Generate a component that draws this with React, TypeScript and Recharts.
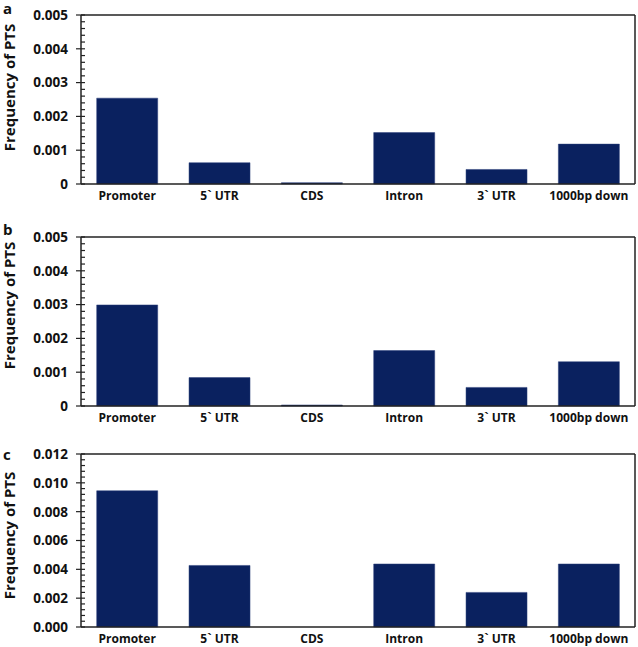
import { BarChart, Bar, XAxis, YAxis, CartesianGrid } from 'recharts';

const categories = ['Promoter', '5` UTR', 'CDS', 'Intron', '3` UTR', '1000bp down'];
const valuesA = [0.00254, 0.00063, 0.00004, 0.00152, 0.00043, 0.00118];
const valuesB = [0.00299, 0.00084, 0.00003, 0.00164, 0.00055, 0.00131];
const valuesC = [0.00945, 0.00427, 0, 0.00437, 0.0024, 0.00437];
const ticksAB = [0, 0.001, 0.002, 0.003, 0.004, 0.005];
const ticksC = [0, 0.002, 0.004, 0.006, 0.008, 0.01, 0.012];

const FONT = '"Open Sans", "DejaVu Sans", sans-serif';
const BAR = '#0a215f';
const AXIS = '#222';

// major + minor tick positions (5 minor steps per major step)
const allTicks = (major: number[]) => {
  const out: number[] = [];
  for (let i = 0; i < major.length - 1; i++) {
    const step = (major[i + 1] - major[i]) / 5;
    for (let k = 0; k < 5; k++) out.push(Number((major[i] + k * step).toFixed(6)));
  }
  out.push(major[major.length - 1]);
  return out;
};

interface PanelProps {
  letter: string;
  values: number[];
  ticks: number[];
  fmt: (v: number) => string;
  top: number;
  height: number;
  xAxisHeight: number;
  labelShift: number;
  letterTop: number;
}

const ChartPanel = (p: PanelProps) => {
  const data = categories.map((name, i) => ({ name, value: p.values[i] }));
  const max = p.ticks[p.ticks.length - 1];

  const isMajor = (v: number) => p.ticks.some((t) => Math.abs(t - v) < 1e-9);

  const YTick = (ctx: any) => {
    const { x, y, payload } = ctx;
    const major = isMajor(payload.value);
    return (
      <g>
        <line x1={major ? x - 5 : x} x2={x + 4} y1={y} y2={y} stroke={AXIS} strokeWidth={1.2} />
        {major && (
          <text
            x={x - 13}
            y={y}
            dy="0.36em"
            textAnchor="end"
            fontFamily={FONT}
            fontWeight="bold"
            fontSize={13.5}
            fill="#111"
          >
            {p.fmt(payload.value)}
          </text>
        )}
      </g>
    );
  };

  const YLabel = (ctx: any) => {
    const vb = ctx.viewBox;
    const cy = vb.y + vb.height / 2 + p.labelShift;
    return (
      <text
        x={9}
        y={cy}
        transform={`rotate(-90, 9, ${cy})`}
        textAnchor="middle"
        dominantBaseline="central"
        fontFamily={FONT}
        fontWeight="bold"
        fontSize={15}
        fill="#111"
      >
        Frequency of PTS
      </text>
    );
  };

  return (
    <div style={{ position: 'absolute', left: 0, top: p.top, width: 638, height: p.height }}>
      <BarChart
        width={638}
        height={p.height}
        data={data}
        margin={{ top: 15, right: 3, bottom: 0, left: 0 }}
        barCategoryGap="17%"
      >
        <CartesianGrid
          stroke={AXIS}
          strokeWidth={1.5}
          horizontalCoordinatesGenerator={(g: any) => [g.offset.top]}
          verticalCoordinatesGenerator={(g: any) => [g.offset.left + g.offset.width]}
        />
        <YAxis
          width={81}
          domain={[0, max]}
          ticks={allTicks(p.ticks)}
          interval={0}
          tickSize={0}
          tickMargin={0}
          tickLine={false}
          axisLine={{ stroke: AXIS, strokeWidth: 1.5 }}
          tick={<YTick />}
          label={<YLabel />}
        />
        <XAxis
          dataKey="name"
          height={p.xAxisHeight}
          tickSize={0}
          tickMargin={7}
          interval={0}
          axisLine={{ stroke: AXIS, strokeWidth: 1.5 }}
          tick={{ fill: '#111', fontSize: 12, fontWeight: 'bold', fontFamily: FONT }}
        />
        <Bar dataKey="value" fill={BAR} stroke="#2a3f7a" strokeWidth={0.5} isAnimationActive={false} />
      </BarChart>
      <div
        style={{
          position: 'absolute',
          left: 3,
          top: p.letterTop,
          fontFamily: FONT,
          fontWeight: 'bold',
          fontSize: 15,
          lineHeight: '15px',
          color: '#111',
        }}
      >
        {p.letter}
      </div>
    </div>
  );
};

const fmtAB = (v: number) => (v === 0 ? '0' : v.toFixed(3));
const fmtC = (v: number) => v.toFixed(3);

export default function App() {
  return (
    <div style={{ position: 'absolute', left: 0, top: 0, width: 638, height: 647, background: '#fff' }}>
      <ChartPanel letter="a" values={valuesA} ticks={ticksAB} fmt={fmtAB}
        top={0} height={205} xAxisHeight={21} labelShift={-12} letterTop={1} />
      <ChartPanel letter="b" values={valuesB} ticks={ticksAB} fmt={fmtAB}
        top={222} height={205} xAxisHeight={21} labelShift={-16} letterTop={0} />
      <ChartPanel letter="c" values={valuesC} ticks={ticksC} fmt={fmtC}
        top={439} height={208} xAxisHeight={20} labelShift={-5} letterTop={8} />
    </div>
  );
}
